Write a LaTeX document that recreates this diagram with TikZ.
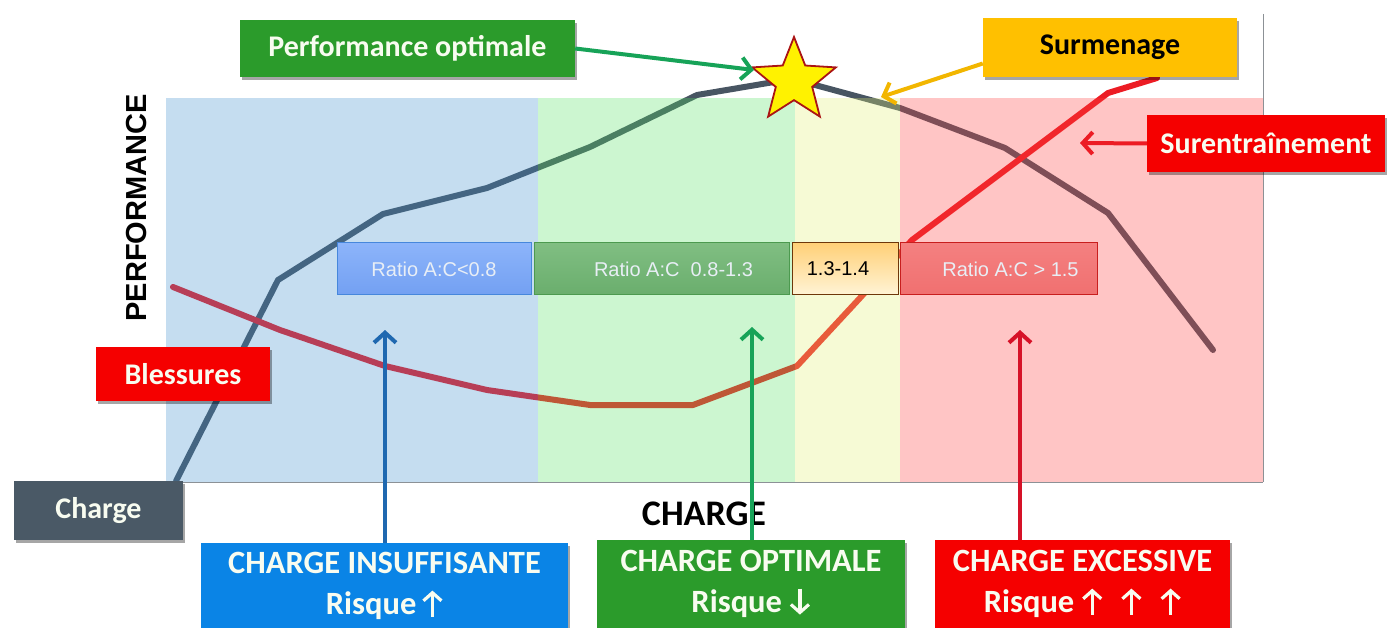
\documentclass[tikz,border=0pt]{standalone}
\usepackage{fontspec}
\setmainfont{Carlito}
\newfontfamily\arialf{Liberation Sans}
\usetikzlibrary{shapes.geometric,arrows.meta,shadows}
\definecolor{zblue}{RGB}{62,141,205}
\definecolor{zgreen}{RGB}{85,225,98}
\definecolor{zyellow}{RGB}{225,238,115}
\definecolor{zred}{RGB}{255,62,62}
\definecolor{curvegray}{RGB}{72,85,98}
\definecolor{curvered}{RGB}{236,28,36}
\definecolor{boxgreen}{RGB}{43,155,43}
\definecolor{boxorange}{RGB}{255,192,0}
\definecolor{boxred}{RGB}{245,0,0}
\definecolor{boxslate}{RGB}{74,89,102}
\definecolor{boxblue}{RGB}{10,132,230}
\definecolor{arrgreen}{RGB}{23,163,88}
\definecolor{arrorange}{RGB}{242,182,0}
\definecolor{arrblue}{RGB}{31,104,176}
\definecolor{arrred}{RGB}{214,18,40}
\definecolor{axisgray}{RGB}{140,145,150}
\definecolor{txtlight}{RGB}{232,238,245}
\definecolor{txtwhite}{RGB}{248,252,240}
\newcommand\uparrowglyph{\tikz[baseline=0pt,x=1pt,y=1pt]\draw[line width=3.2pt, txtwhite, -{Straight Barb[length=8pt,width=18pt]}] (0pt,-2pt) -- (0pt,24pt);}
\newcommand\downarrowglyph{\tikz[baseline=0pt,x=1pt,y=1pt]\draw[line width=3.2pt, txtwhite, -{Straight Barb[length=8pt,width=18pt]}] (0pt,24pt) -- (0pt,-2pt);}
\begin{document}
\begin{tikzpicture}[x=1pt,y=-1pt,
  box/.style={rectangle, inner sep=0pt, text=txtwhite,
    drop shadow={shadow xshift=2pt, shadow yshift=-3pt, opacity=0.35, fill=black},
    font=\bfseries\fontsize{30}{33}\selectfont},
  bigbox/.style={box, align=center, font=\bfseries\fontsize{32.5}{41}\selectfont},
  ratiobox/.style={rectangle, inner sep=0pt, minimum height=52pt, line width=1pt,
    text=txtlight, font=\arialf\fontsize{20}{22}\selectfont},
  curve/.style={line width=6pt, line join=round, line cap=round},
  callout/.style={line width=4pt, -{Straight Barb[length=10pt, width=22pt]}},
]
\useasboundingbox (0,0) rectangle (1392,628);
\clip (0,0) rectangle (1392,628);

% curves (drawn beneath the translucent zones)
\draw[curve, curvegray] (176,481) -- (278,280) -- (383,214) -- (487,188) -- (590,147)
  -- (697,95) -- (780,81) -- (815,85) -- (900,108) -- (1005,148) -- (1108,213) -- (1213,350);
\draw[curve, curvered] (173,287) -- (280,330) -- (385,366) -- (487,390) -- (590,405)
  -- (693,405) -- (797,366) -- (860,298) -- (912,240) -- (1108,93) -- (1157,78);

% zones
\fill[zblue, fill opacity=0.3] (166,98) rectangle (538,482);
\fill[zgreen, fill opacity=0.3] (538,98) rectangle (795,482);
\fill[zyellow, fill opacity=0.3] (795,98) rectangle (900,482);
\fill[zred, fill opacity=0.3] (900,98) rectangle (1263,482);

% axes
\draw[axisgray, line width=1pt] (166,482) -- (1263,482);
\draw[axisgray, line width=1pt] (1263,14) -- (1263,482);

% ratio boxes
\node[ratiobox, minimum width=194pt, draw={rgb,255:red,70;green,135;blue,220},
  top color={rgb,255:red,140;green,180;blue,250}, bottom color={rgb,255:red,115;green,160;blue,242}]
  (r1) at (434,269) {Ratio A:C<0.8};
\node[ratiobox, minimum width=255pt, draw={rgb,255:red,76;green,154;blue,79},
  top color={rgb,255:red,128;green,190;blue,130}, bottom color={rgb,255:red,106;green,174;blue,109}]
  (r2) at (661.5,269) {\hspace*{24pt}Ratio A:C\ \ 0.8-1.3};
\node[ratiobox, minimum width=106pt, draw={rgb,255:red,110;green,55;blue,10}, text=black,
  top color={rgb,255:red,255;green,208;blue,120}, bottom color={rgb,255:red,255;green,244;blue,214}]
  (r3) at (845,269) {1.3-1.4\hspace*{14pt}};
\node[ratiobox, minimum width=197pt, draw={rgb,255:red,200;green,30;blue,30},
  top color={rgb,255:red,244;green,128;blue,128}, bottom color={rgb,255:red,240;green,112;blue,112}]
  (r4) at (998.5,269) {\hspace*{24pt}Ratio A:C > 1.5};

% star
\node[star, star points=5, star point ratio=2.3, minimum size=88pt, inner sep=0pt,
  fill={rgb,255:red,255;green,242;blue,0}, draw={rgb,255:red,170;green,20;blue,20}, line width=1.8pt]
  (star) at (794,81) {};

% labelled boxes
\node[box, fill=boxgreen, minimum width=335pt, minimum height=57pt] (perf) at (407.5,48.5) {Performance optimale};
\node[box, fill=boxorange, text=black, minimum width=254pt, minimum height=59pt] (surm) at (1110,47.5) {Surmenage};
\node[box, fill=boxred, minimum width=238pt, minimum height=57pt] (suren) at (1266,143.5) {Surentraînement};
\node[box, fill=boxred, minimum width=174pt, minimum height=54pt] (bless) at (183,374) {Blessures};
\node[box, fill=boxslate, minimum width=169pt, minimum height=59pt] (charge) at (98.5,510.5) {Charge};

% axis labels
\node[rotate=90, font=\arialf\bfseries\fontsize{29}{30}\selectfont] (perfax) at (137,208) {PERFORMANCE};
\node[font=\bfseries\fontsize{36}{38}\selectfont] (chargeax) at (704,514) {CHARGE};

% bottom boxes
\node[bigbox, fill=boxblue, minimum width=367pt, minimum height=86pt] (binsuf) at (384.5,586)
  {CHARGE INSUFFISANTE\\Risque\,\uparrowglyph};
\node[bigbox, fill=boxgreen, minimum width=308pt, minimum height=88pt] (bopt) at (751,584)
  {CHARGE OPTIMALE\\Risque\ \downarrowglyph};
\node[bigbox, fill=boxred, minimum width=295pt, minimum height=88pt] (bexc) at (1082.5,584)
  {CHARGE EXCESSIVE\\Risque\ \uparrowglyph\hspace{18pt}\uparrowglyph\hspace{18pt}\uparrowglyph};

% callout arrows
\coordinate (tipperf) at (754,70);
\coordinate (tipsurm) at (881,97);
\coordinate (tipsuren) at (1080,143);
\coordinate (tipb) at (385,330);
\coordinate (tipg) at (752,327);
\coordinate (tipr) at (1020,330);
\draw[callout, arrgreen] (perf.east) -- (tipperf);
\draw[callout, arrorange] ([yshift=-16pt]surm.west) -- (tipsurm);
\draw[callout, curvered] (suren.west) -- (tipsuren);
\draw[callout, arrblue] (binsuf.north -| tipb) -- (tipb);
\draw[callout, arrgreen] (bopt.north -| tipg) -- (tipg);
\draw[callout, arrred] (bexc.north -| tipr) -- (tipr);
\end{tikzpicture}
\end{document}
